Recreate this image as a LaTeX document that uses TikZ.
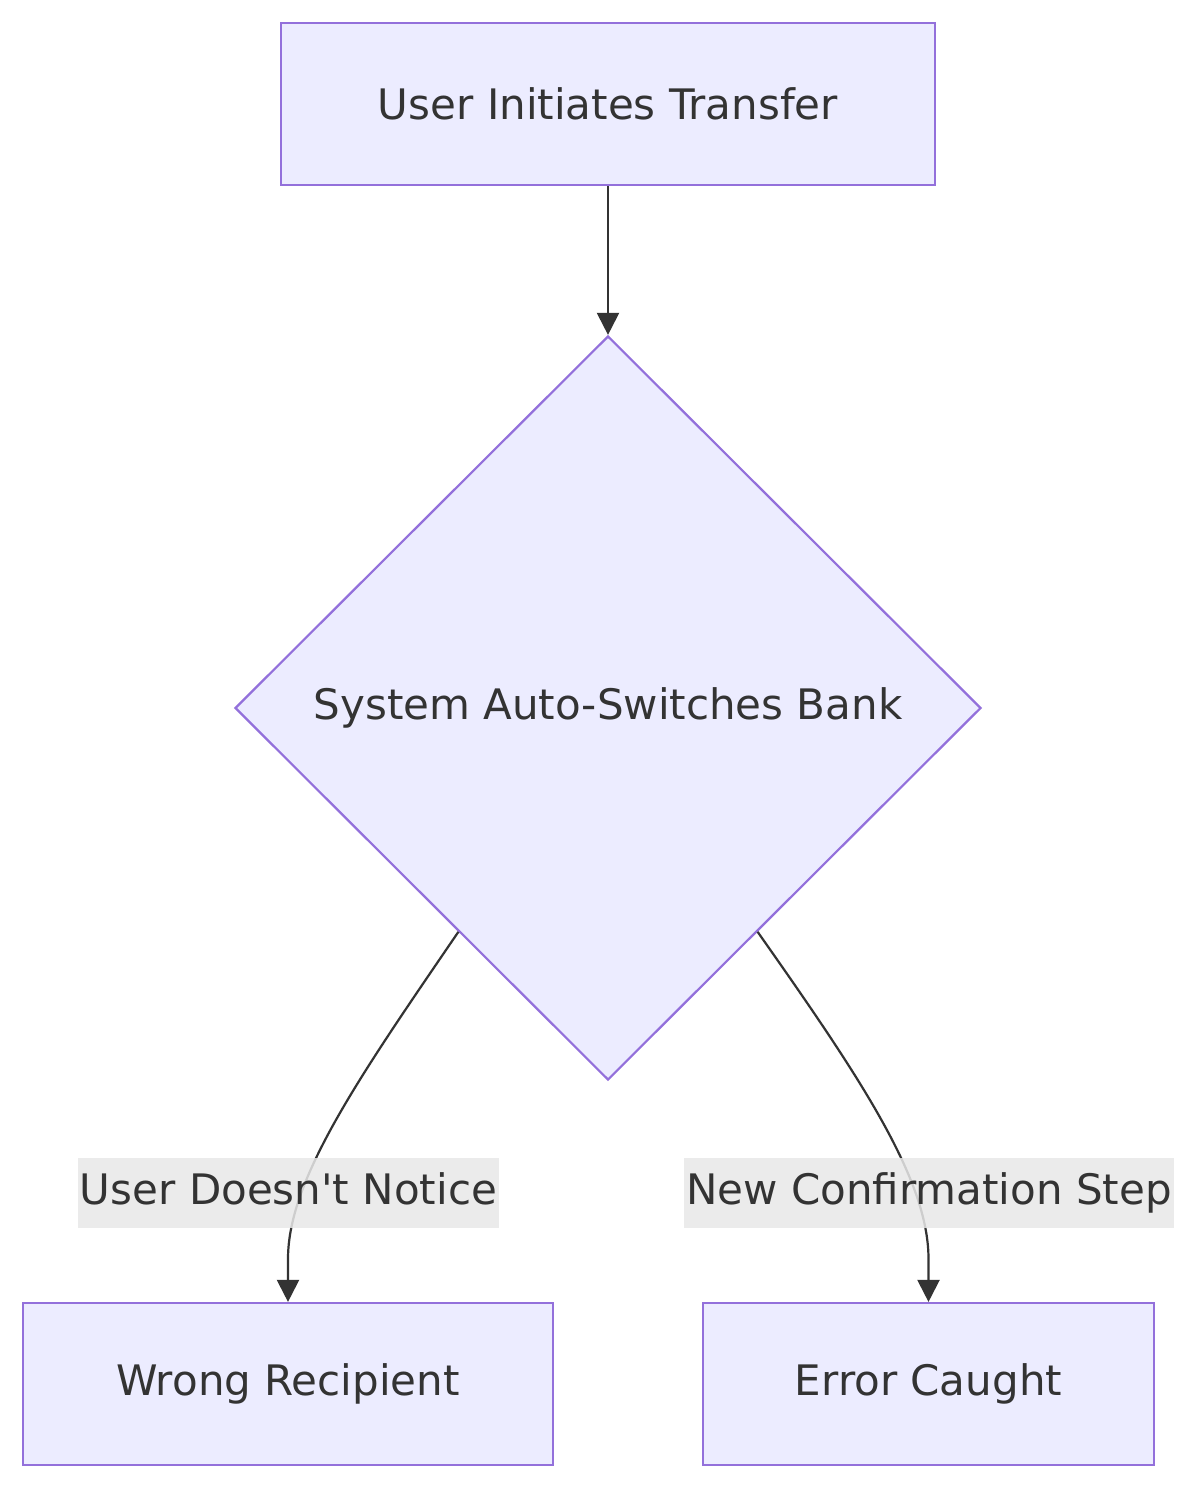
\documentclass[tikz,border=0pt]{standalone}
\usepackage{fontspec}
\setmainfont{DejaVu Sans}
\usetikzlibrary{shapes.geometric,arrows.meta,calc}
\definecolor{nodefill}{HTML}{ECECFF}
\definecolor{nodeline}{HTML}{9370DB}
\definecolor{ink}{HTML}{333333}
\definecolor{lblbg}{HTML}{E8E8E8}
\begin{document}
\begin{tikzpicture}[x=1pt,y=-1pt,
  every node/.style={font=\fontsize{42}{50}\selectfont, text=ink},
  procbox/.style={draw=nodeline, fill=nodefill, line width=2.2pt, rectangle, minimum height=162pt, inner sep=0pt},
  decbox/.style={draw=nodeline, fill=nodefill, line width=2.2pt, diamond, aspect=1, minimum width=746pt, minimum height=744pt, inner sep=0pt},
  flow/.style={draw=ink, line width=2.2pt, -{Triangle[length=22pt,width=22pt]}},
  edgelbl/.style={fill=lblbg, fill opacity=0.85, text opacity=1, inner xsep=2pt, inner ysep=0pt, text height=31pt, text depth=9pt, minimum height=70pt}]
\useasboundingbox (0,0) rectangle (1201,1490);
\fill[white] (0,0) rectangle (1201,1490);
\node[procbox, minimum width=654pt] (start) at (608,104) {User Initiates Transfer};
\node[decbox] (dec) at (608,708) {System Auto-Switches Bank};
\node[procbox, minimum width=530pt] (wrong) at (288,1384) {Wrong Recipient};
\node[procbox, minimum width=451pt] (caught) at (928.5,1384) {Error Caught};
\coordinate (dl) at ($(dec.south)!0.4!(dec.west)$);
\coordinate (dr) at ($(dec.south)!0.4!(dec.east)$);
\draw[flow] (start.south) -- (dec.north);
\draw[flow] (dl) .. controls ($(dl)+(-99,145)$) and ($(wrong.north)+(0,-123)$) .. ($(wrong.north)+(0,-43)$) -- (wrong.north);
\draw[flow] (dr) .. controls ($(dr)+(102,145)$) and ($(caught.north)+(0,-123)$) .. ($(caught.north)+(0,-43)$) -- (caught.north);
\node[edgelbl] (l1) at (288.5,1193) {User Doesn\textquotesingle t Notice};
\node[edgelbl] (l2) at (929,1193) {New Confirmation Step};
\end{tikzpicture}
\end{document}
